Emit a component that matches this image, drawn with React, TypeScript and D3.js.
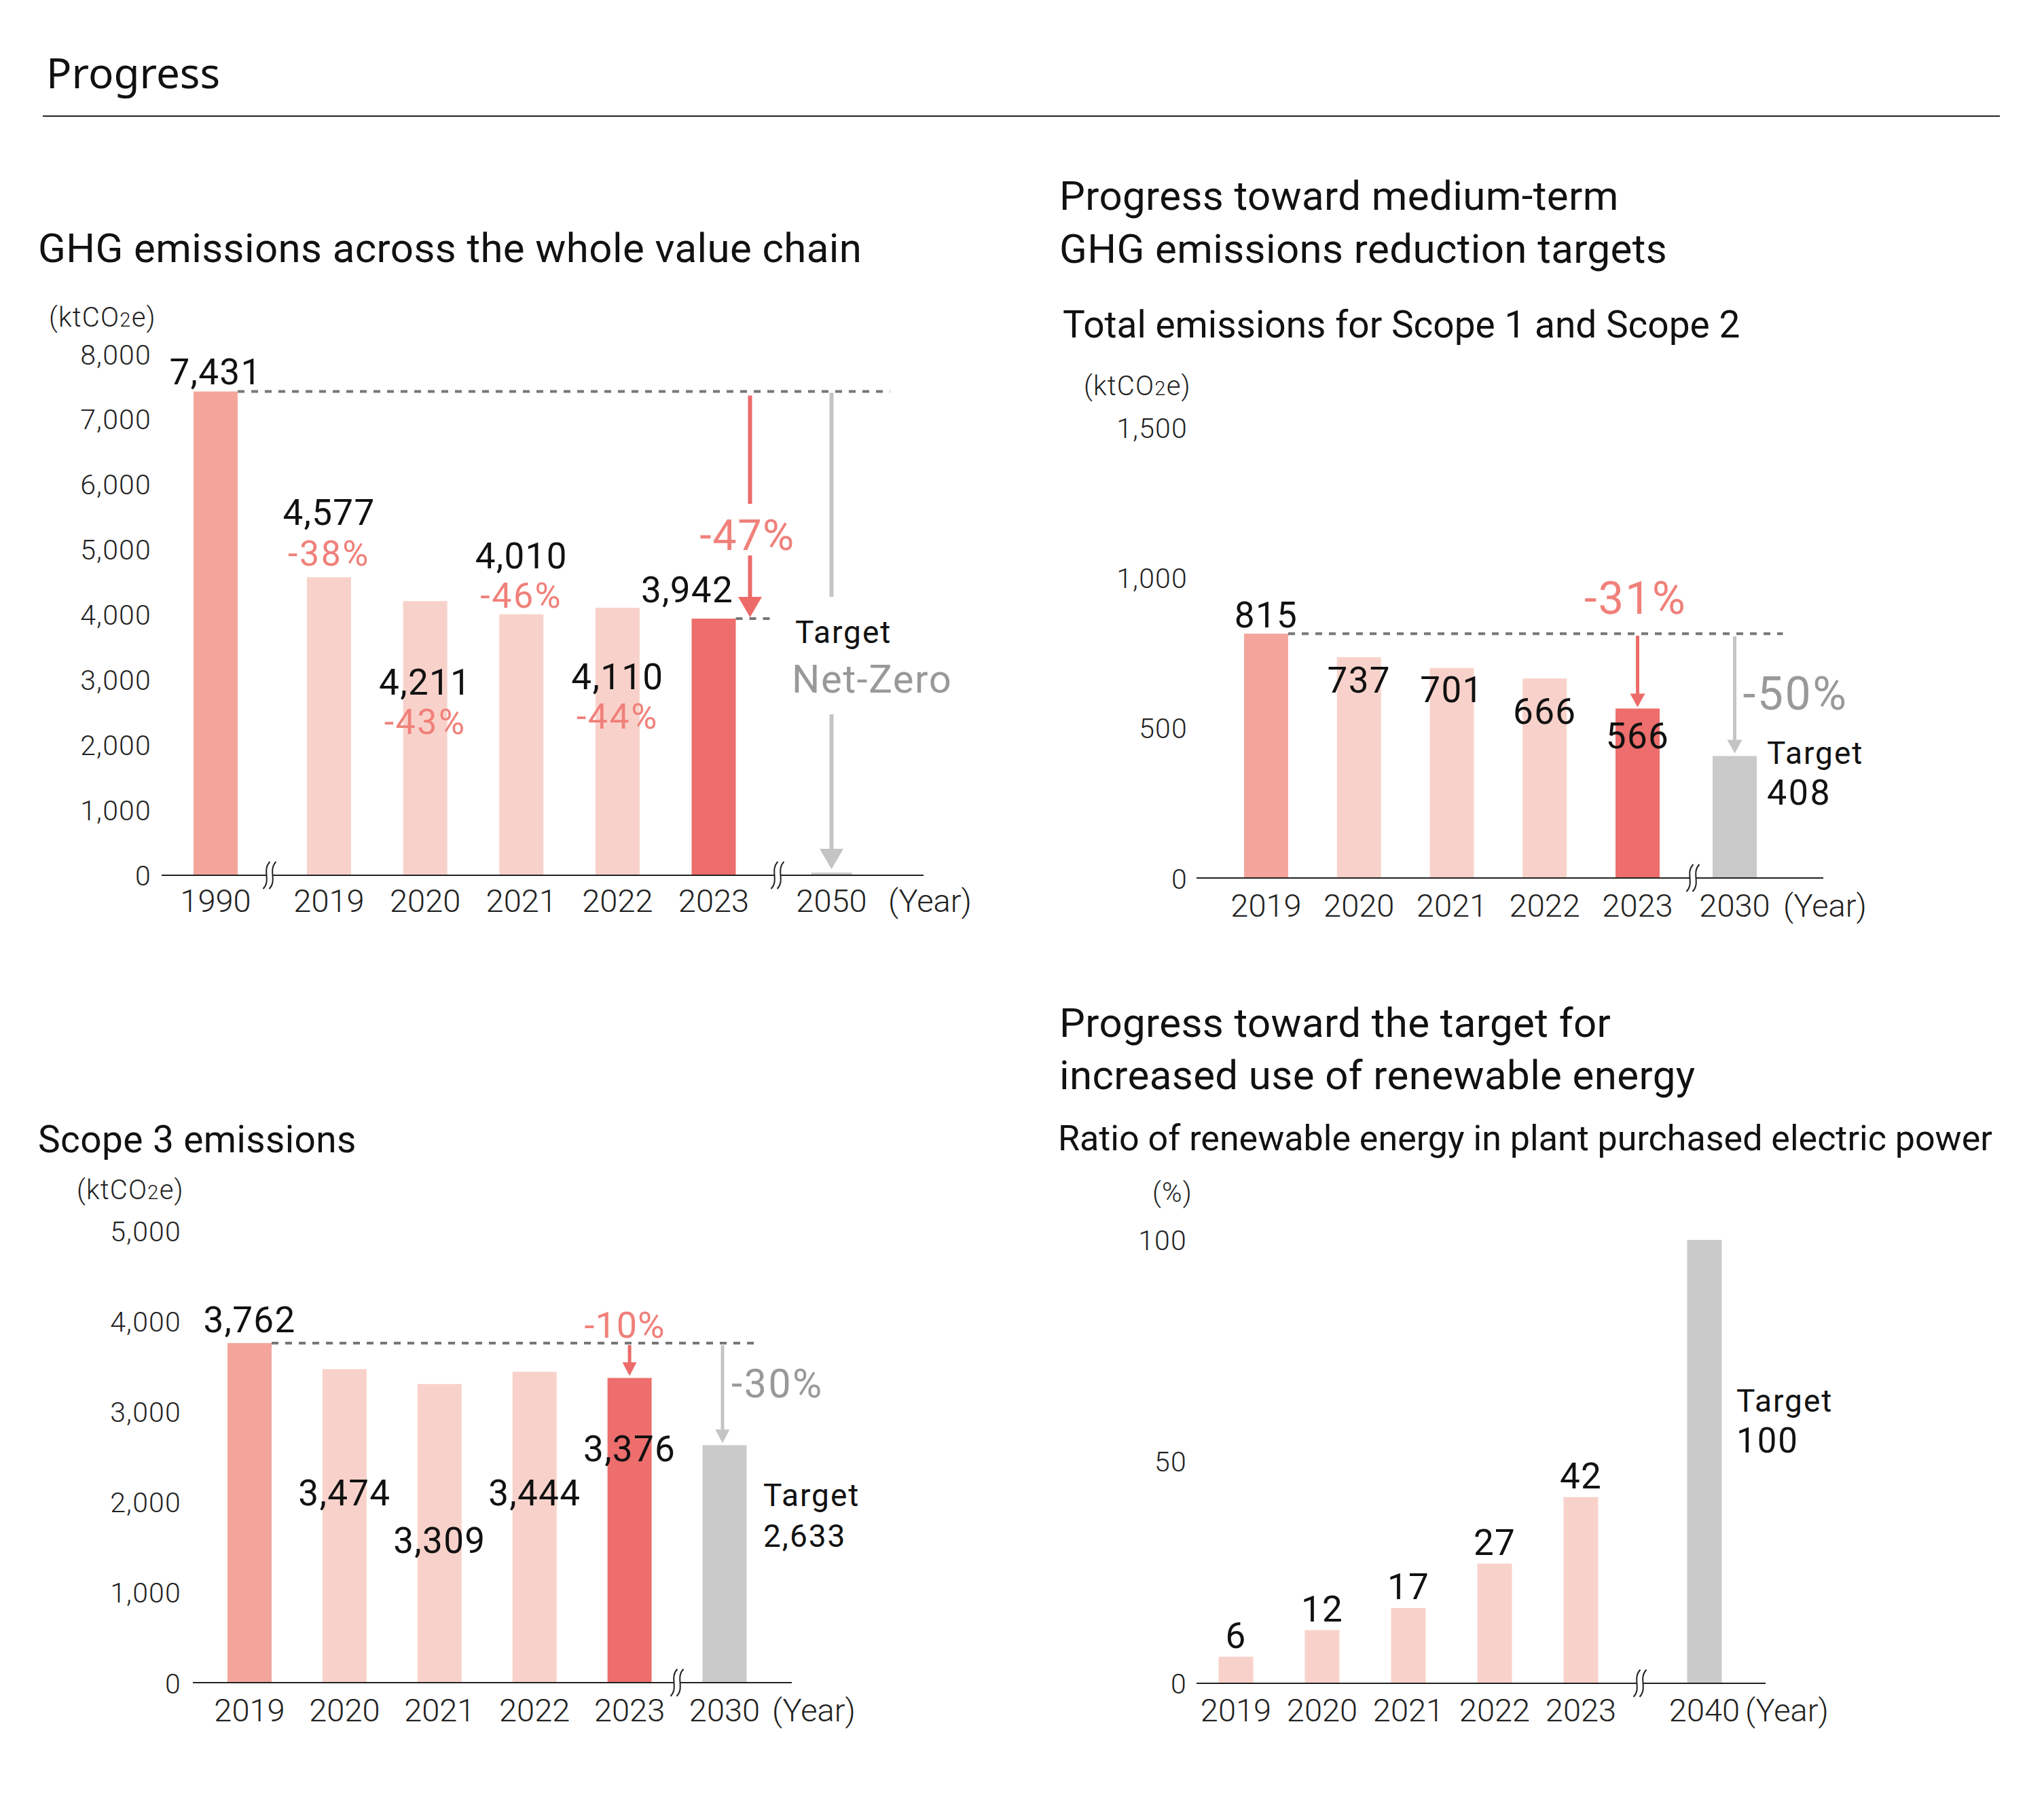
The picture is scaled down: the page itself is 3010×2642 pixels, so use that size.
import React from 'react';
import * as d3 from 'd3';

// ---------------- DATA ----------------
// Chart 1: GHG emissions across the whole value chain (ktCO2e)
const ghgYears = ['1990', '2019', '2020', '2021', '2022', '2023', '2050'];
const ghgValues = [7431, 4577, 4211, 4010, 4110, 3942, 0];
const ghgChange = ['', '-38%', '-43%', '-46%', '-44%', '-47%', ''];
const ghgTicks = [0, 1000, 2000, 3000, 4000, 5000, 6000, 7000, 8000];
const ghgTargetText = 'Net-Zero';

// Chart 2: Scope 1 + Scope 2 (ktCO2e)
const s12Years = ['2019', '2020', '2021', '2022', '2023', '2030'];
const s12Values = [815, 737, 701, 666, 566, 408];
const s12Ticks = [0, 500, 1000, 1500];
const s12Change = '-31%';
const s12TargetChange = '-50%';

// Chart 3: Scope 3 (ktCO2e)
const s3Years = ['2019', '2020', '2021', '2022', '2023', '2030'];
const s3Values = [3762, 3474, 3309, 3444, 3376, 2633];
const s3Ticks = [0, 1000, 2000, 3000, 4000, 5000];
const s3Change = '-10%';
const s3TargetChange = '-30%';

// Chart 4: Renewable energy ratio (%)
const reYears = ['2019', '2020', '2021', '2022', '2023', '2040'];
const reValues = [6, 12, 17, 27, 42, 100];
const reTicks = [0, 50, 100];

// ---------------- STYLE ----------------
const FONT = 'Roboto, "Noto Sans", sans-serif';
const C_BASE = '#F3A59C';
const C_LIGHT = '#F8D2CA';
const C_CUR = '#ED6E6C';
const C_GRAY = '#C9CAC9';
const C_PCT = '#F0807A';
const C_ARROW = '#EC6B69';
const C_GARROW = '#C4C4C4';
const C_GTEXT = '#999999';
const C_DASH = '#777777';
const C_AXIS = '#222222';
const fmt = d3.format(',');
const VAL = 53;
const VAL_LS = 1.3;

function BreakMark({ x, y }: { x: number; y: number }) {
  const curve = (cx: number) => `M ${cx + 5},-20 C ${cx - 7},-8 ${cx + 7},8 ${cx - 5},20`;
  return (
    <g transform={`translate(${x},${y})`}>
      <rect x={-5} y={-3} width={10} height={6} fill="#fff" />
      <path d={curve(-4.5)} fill="none" stroke={C_AXIS} strokeWidth={2} />
      <path d={curve(4.5)} fill="none" stroke={C_AXIS} strokeWidth={2} />
    </g>
  );
}

function Arrow({ x, y1, tip, color, w, hw, hh, gap }: { x: number; y1: number; tip: number; color: string; w: number; hw: number; hh: number; gap?: [number, number] }) {
  const shaftEnd = tip - hh + 1;
  const segs: [number, number][] = gap ? [[y1, gap[0]], [gap[1], shaftEnd]] : [[y1, shaftEnd]];
  return (
    <g>
      {segs.map((s, i) => (
        <line key={i} x1={x} x2={x} y1={s[0]} y2={s[1]} stroke={color} strokeWidth={w} />
      ))}
      <path d={`M ${x - hw / 2},${tip - hh} L ${x + hw / 2},${tip - hh} L ${x},${tip} Z`} fill={color} />
    </g>
  );
}

function YTicks({ ticks, y, x }: { ticks: number[]; y: d3.ScaleLinear<number, number>; x: number }) {
  return (
    <g>
      {ticks.map((t) => (
        <text key={t} x={x} y={y(t)} dy="0.355em" textAnchor="end" fontSize={41} letterSpacing={1.2} fontWeight={300} fill={C_AXIS} fontFamily={FONT}>
          {fmt(t)}
        </text>
      ))}
    </g>
  );
}

function Unit({ x, y, co2 }: { x: number; y: number; co2: boolean }) {
  return (
    <text x={x} y={y} fontSize={40} letterSpacing={1.2} fontWeight={300} fill={C_AXIS} fontFamily={FONT}>
      {co2 ? (
        <>
          (ktCO<tspan fontSize={29}>2</tspan>e)
        </>
      ) : (
        '(%)'
      )}
    </text>
  );
}

function T({ x, y, size, children, anchor = 'start', weight = 400, fill = '#111', ls = 0 }: any) {
  return (
    <text x={x} y={y} fontSize={size} textAnchor={anchor} fontWeight={weight} fill={fill} fontFamily={FONT} letterSpacing={ls}>
      {children}
    </text>
  );
}

function Title({ x, y, children, size = 60 }: any) {
  return <T x={x} y={y} size={size} ls={0.4}>{children}</T>;
}

// ---------------- CHART 1 ----------------
function Chart1() {
  const y = d3.scaleLinear().domain([0, 8000]).range([1289, 522]);
  const xMain = d3.scalePoint<string>().domain(ghgYears.slice(1, 6)).range([484.5, 1051]);
  const xBase = d3.scalePoint<string>().domain(ghgYears.slice(0, 1)).range([317.5, 317.5]);
  const xTarget = d3.scalePoint<string>().domain(ghgYears.slice(6)).range([1224.5, 1224.5]);
  const xOf = (k: string, i: number) => (i === 0 ? xBase(k)! : i === 6 ? xTarget(k)! : xMain(k)!);
  const bw = 65;
  const valueDy = [-11, -77, 138, -68, 120, -24];
  const pctDy = [0, -17, 196, -10, 178, 0];
  const lastIdx = 5;
  const x23 = xOf(ghgYears[lastIdx], lastIdx);
  const xT = xOf(ghgYears[6], 6);
  const base = ghgValues[0];
  const arrowX = x23 + bw / 2 + 21;
  return (
    <g>
      <Title x={56} y={386}>GHG emissions across the whole value chain</Title>
      <Unit x={72} y={481} co2 />
      <YTicks ticks={ghgTicks} y={y} x={223} />
      {ghgValues.map((v, i) => {
        const cx = xOf(ghgYears[i], i);
        const fill = i === 0 ? C_BASE : i === lastIdx ? C_CUR : i === 6 ? C_GRAY : C_LIGHT;
        const top = Math.min(y(v), y(0) - 4);
        const w = i === 6 ? 60 : bw;
        return <rect key={i} x={cx - w / 2} y={top} width={w} height={y(0) - top} fill={fill} />;
      })}
      <line x1={238} x2={1360} y1={y(0)} y2={y(0)} stroke={C_AXIS} strokeWidth={2} />
      <BreakMark x={397} y={y(0)} />
      <BreakMark x={1145} y={y(0)} />
      {/* reference dashed lines */}
      <line x1={xOf('1990', 0) + bw / 2} x2={xT + 86} y1={y(base)} y2={y(base)} stroke={C_DASH} strokeWidth={4} strokeDasharray="10 10" />
      <line x1={x23 + bw / 2} x2={x23 + bw / 2 + 52} y1={y(ghgValues[lastIdx])} y2={y(ghgValues[lastIdx])} stroke={C_DASH} strokeWidth={4} strokeDasharray="10 10" />
      {/* value labels */}
      {ghgValues.slice(0, 6).map((v, i) => {
        const cx = xOf(ghgYears[i], i) + (i === lastIdx ? -39 : 0);
        return (
          <g key={i}>
            <T x={cx} y={y(v) + valueDy[i]} size={VAL} ls={VAL_LS} anchor="middle">{fmt(v)}</T>
            {i > 0 && i < lastIdx && (
              <T x={cx} y={y(v) + pctDy[i]} size={52} ls={2.5} anchor="middle" fill={C_PCT}>{ghgChange[i]}</T>
            )}
          </g>
        );
      })}
      {/* -47% arrow */}
      <Arrow x={arrowX} y1={y(base) + 6} tip={y(ghgValues[lastIdx]) - 2} color={C_ARROW} w={6} hw={35} hh={30} gap={[742, 818]} />
      <T x={arrowX - 4} y={810} size={63} ls={1.5} anchor="middle" fill={C_PCT}>{ghgChange[lastIdx]}</T>
      {/* Net-zero arrow */}
      <Arrow x={xT} y1={y(base) + 2} tip={y(ghgValues[6]) - 9} color={C_GARROW} w={6} hw={35} hh={30} gap={[879, 1052]} />
      <T x={1171} y={947} size={46} ls={2}>Target</T>
      <T x={1166} y={1020} size={58} ls={1.5} fill={C_GTEXT}>{ghgTargetText}</T>
      {/* x labels */}
      {ghgYears.map((k, i) => (
        <T key={k} x={xOf(k, i)} y={1343} size={47} weight={300} anchor="middle" fill={C_AXIS}>{k}</T>
      ))}
      <T x={1308} y={1343} size={47} weight={300} fill={C_AXIS}>(Year)</T>
    </g>
  );
}

// ---------------- CHART 2 ----------------
function Chart2() {
  const y = d3.scaleLinear().domain([0, 1500]).range([1294, 630]);
  const xMain = d3.scalePoint<string>().domain(s12Years.slice(0, 5)).range([1864.5, 2411.5]);
  const xTarget = d3.scalePoint<string>().domain(s12Years.slice(5)).range([2554.5, 2554.5]);
  const xOf = (k: string, i: number) => (i === 5 ? xTarget(k)! : xMain(k)!);
  const bw = 65;
  const valueDy = [-9, 52, 50, 67, 59];
  const base = s12Values[0];
  const x23 = xOf(s12Years[4], 4);
  const xT = xOf(s12Years[5], 5);
  return (
    <g>
      <Title x={1560} y={309}>Progress toward medium-term</Title>
      <Title x={1560} y={387}>GHG emissions reduction targets</Title>
      <T x={1565} y={497} size={55}>Total emissions for Scope 1 and Scope 2</T>
      <Unit x={1596} y={582} co2 />
      <YTicks ticks={s12Ticks} y={y} x={1749} />
      {s12Values.map((v, i) => {
        const cx = xOf(s12Years[i], i);
        const fill = i === 0 ? C_BASE : i === 4 ? C_CUR : i === 5 ? C_GRAY : C_LIGHT;
        return <rect key={i} x={cx - bw / 2} y={y(v)} width={bw} height={y(0) - y(v)} fill={fill} />;
      })}
      <line x1={1762} x2={2685} y1={y(0) - 1} y2={y(0) - 1} stroke={C_AXIS} strokeWidth={2} />
      <BreakMark x={2493} y={y(0) - 1} />
      <line x1={xOf(s12Years[0], 0) + bw / 2} x2={xT + 71} y1={y(base)} y2={y(base)} stroke={C_DASH} strokeWidth={4} strokeDasharray="10 10" />
      {s12Values.slice(0, 5).map((v, i) => (
        <T key={i} x={xOf(s12Years[i], i)} y={y(v) + valueDy[i]} size={VAL} ls={VAL_LS} anchor="middle">{fmt(v)}</T>
      ))}
      <Arrow x={x23} y1={y(base) + 3} tip={y(s12Values[4]) - 2} color={C_ARROW} w={5} hw={22} hh={20} />
      <T x={x23 - 3} y={904} size={67} ls={2} anchor="middle" fill={C_PCT}>{s12Change}</T>
      <Arrow x={xT} y1={y(base) + 4} tip={y(s12Values[5]) - 4} color={C_GARROW} w={5} hw={22} hh={20} />
      <T x={xT + 12} y={1045} size={68} ls={2.5} fill={C_GTEXT}>{s12TargetChange}</T>
      <T x={2602} y={1125} size={46} ls={2}>Target</T>
      <T x={2602} y={1185} size={52} ls={2.5}>{fmt(s12Values[5])}</T>
      {s12Years.map((k, i) => (
        <T key={k} x={xOf(k, i)} y={1350} size={47} weight={300} anchor="middle" fill={C_AXIS}>{k}</T>
      ))}
      <T x={2626} y={1350} size={47} weight={300} fill={C_AXIS}>(Year)</T>
    </g>
  );
}

// ---------------- CHART 3 ----------------
function Chart3() {
  const y = d3.scaleLinear().domain([0, 5000]).range([2479, 1813]);
  const x = d3.scalePoint<string>().domain(s3Years).range([367.5, 1067]);
  const bw = 65;
  const valueDy = [-16, 201, 249, 197, 123];
  const base = s3Values[0];
  const x23 = x(s3Years[4])!;
  const xT = x(s3Years[5])!;
  return (
    <g>
      <Title x={56} y={1697} size={55}>Scope 3 emissions</Title>
      <Unit x={113} y={1766} co2 />
      <YTicks ticks={s3Ticks} y={y} x={267} />
      {s3Values.map((v, i) => {
        const fill = i === 0 ? C_BASE : i === 4 ? C_CUR : i === 5 ? C_GRAY : C_LIGHT;
        return <rect key={i} x={x(s3Years[i])! - bw / 2} y={y(v)} width={bw} height={y(0) - y(v)} fill={fill} />;
      })}
      <line x1={284} x2={1166} y1={y(0) - 1} y2={y(0) - 1} stroke={C_AXIS} strokeWidth={2} />
      <BreakMark x={997} y={y(0) - 1} />
      <line x1={x(s3Years[0])! + bw / 2} x2={xT + 48} y1={y(base)} y2={y(base)} stroke={C_DASH} strokeWidth={4} strokeDasharray="10 10" />
      {s3Values.slice(0, 5).map((v, i) => (
        <T key={i} x={x(s3Years[i])!} y={y(v) + valueDy[i]} size={VAL} ls={VAL_LS} anchor="middle">{fmt(v)}</T>
      ))}
      <Arrow x={x23} y1={y(base) + 3} tip={y(s3Values[4]) - 3} color={C_ARROW} w={5} hw={21} hh={20} />
      <T x={x23 - 7} y={1970} size={54} ls={1} anchor="middle" fill={C_PCT}>{s3Change}</T>
      <Arrow x={xT - 3} y1={y(base) + 3} tip={y(s3Values[5]) - 3} color={C_GARROW} w={5} hw={21} hh={20} />
      <T x={xT + 10} y={2058} size={59} ls={2.5} fill={C_GTEXT}>{s3TargetChange}</T>
      <T x={1124} y={2218} size={46} ls={2}>Target</T>
      <T x={1124} y={2278} size={46} ls={2}>{fmt(s3Values[5])}</T>
      {s3Years.map((k) => (
        <T key={k} x={x(k)!} y={2535} size={47} weight={300} anchor="middle" fill={C_AXIS}>{k}</T>
      ))}
      <T x={1137} y={2535} size={47} weight={300} fill={C_AXIS}>(Year)</T>
    </g>
  );
}

// ---------------- CHART 4 ----------------
function Chart4() {
  const y = d3.scaleLinear().domain([0, 100]).range([2479, 1826]);
  const xMain = d3.scalePoint<string>().domain(reYears.slice(0, 5)).range([1820, 2328]);
  const xTarget = d3.scalePoint<string>().domain(reYears.slice(5)).range([2510, 2510]);
  const xOf = (k: string, i: number) => (i === 5 ? xTarget(k)! : xMain(k)!);
  const bw = 51;
  return (
    <g>
      <Title x={1560} y={1527}>Progress toward the target for</Title>
      <Title x={1560} y={1604}>increased use of renewable energy</Title>
      <T x={1558} y={1694} size={52}>Ratio of renewable energy in plant purchased electric power</T>
      <Unit x={1697} y={1770} co2={false} />
      <YTicks ticks={reTicks} y={y} x={1748} />
      {reValues.map((v, i) => {
        const fill = i === 5 ? C_GRAY : C_LIGHT;
        const cx = xOf(reYears[i], i);
        return <rect key={i} x={cx - bw / 2} y={y(v)} width={bw} height={y(0) - y(v)} fill={fill} />;
      })}
      <line x1={1762} x2={2600} y1={y(0)} y2={y(0)} stroke={C_AXIS} strokeWidth={2} />
      <BreakMark x={2415} y={y(0)} />
      {reValues.slice(0, 5).map((v, i) => (
        <T key={i} x={xOf(reYears[i], i)} y={y(v) - 13} size={VAL} ls={VAL_LS} anchor="middle">{fmt(v)}</T>
      ))}
      <T x={2557} y={2079} size={46} ls={2}>Target</T>
      <T x={2557} y={2139} size={51} ls={2}>{fmt(reValues[5])}</T>
      {reYears.map((k, i) => (
        <T key={k} x={xOf(k, i)} y={2535} size={47} weight={300} anchor="middle" fill={C_AXIS}>{k}</T>
      ))}
      <T x={2570} y={2535} size={47} weight={300} fill={C_AXIS}>(Year)</T>
    </g>
  );
}

export default function App() {
  return (
    <svg width={3010} height={2642} viewBox="0 0 3010 2642" style={{ position: 'absolute', left: 0, top: 0, background: '#fff' }}>
      <rect x={0} y={0} width={3010} height={2642} fill="#fff" />
      <text x={68} y={130} fontSize={62} fontFamily='"Noto Sans", sans-serif' fill="#111">Progress</text>
      <line x1={63} x2={2945} y1={171} y2={171} stroke={C_AXIS} strokeWidth={2} />
      <Chart1 />
      <Chart2 />
      <Chart3 />
      <Chart4 />
    </svg>
  );
}
